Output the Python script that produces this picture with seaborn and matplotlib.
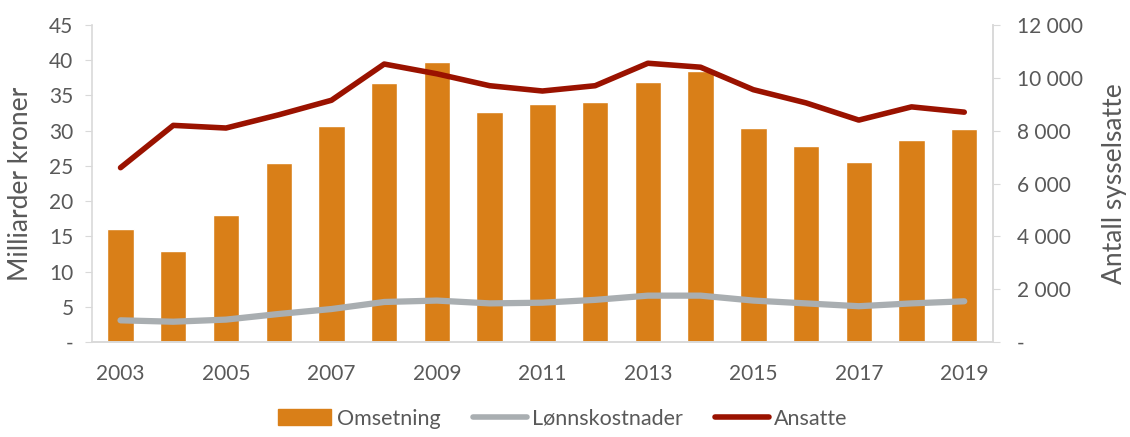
import numpy as np
import pandas as pd
import seaborn as sns
import matplotlib.pyplot as plt
from matplotlib.patches import Patch
from matplotlib.lines import Line2D
from matplotlib.ticker import FuncFormatter

years = [str(y) for y in range(2003, 2020)]
omsetning = [16.0, 13.0, 18.1, 25.4, 30.6, 36.7, 39.7, 32.7, 33.8, 34.0,
             36.9, 38.5, 30.4, 27.8, 25.6, 28.7, 30.2]
lonnskostnader = [3.1, 2.9, 3.2, 4.0, 4.7, 5.7, 5.9, 5.5, 5.6, 6.0,
                  6.6, 6.6, 5.9, 5.5, 5.1, 5.5, 5.8]
ansatte = [6600, 8200, 8100, 8600, 9150, 10520, 10150, 9700, 9500, 9700,
           10550, 10400, 9550, 9050, 8400, 8900, 8700]

df = pd.DataFrame({'year': years, 'Omsetning': omsetning,
                   'Lonn': lonnskostnader, 'Ansatte': ansatte})

sns.set_style('white')
plt.rcParams['font.family'] = ['Lato', 'DejaVu Sans']
txtcol = '#595959'
gridcol = '#d9d9d9'
c_bar, c_gray, c_red = '#D97F18', '#A9AEB1', '#9A1200'

fig = plt.figure(figsize=(11.3, 4.37), dpi=100)
ax = fig.add_axes([0.081, 0.217, 0.798, 0.726])
sns.barplot(data=df, x='year', y='Omsetning', color=c_bar, width=0.5,
            saturation=1, ax=ax, zorder=2)
xpos = np.arange(len(years))
sns.lineplot(x=xpos, y=df['Lonn'], color=c_gray, lw=4.5, ax=ax, zorder=3)
ax.set_ylim(0, 45)
ax.set_yticks(range(0, 46, 5))
ax.yaxis.set_major_formatter(FuncFormatter(lambda v, p: '-' if v == 0 else f'{int(v)}'))
ax.set_xlim(-0.55, len(years) - 0.45)
ax.set_xticks(xpos[::2])
ax.set_xticklabels(years[::2])
ax.set_xlabel('')
ax.set_ylabel('Milliarder kroner', fontsize=19, color=txtcol, labelpad=12)

ax2 = ax.twinx()
sns.lineplot(x=xpos, y=df['Ansatte'], color=c_red, lw=4, ax=ax2, zorder=4)
ax2.set_ylim(0, 12000)
ax2.set_yticks(range(0, 12001, 2000))
ax2.yaxis.set_major_formatter(FuncFormatter(
    lambda v, p: '-' if v == 0 else f'{int(v):,}'.replace(',', ' ')))
ax2.set_ylabel('Antall sysselsatte', fontsize=19, color=txtcol, labelpad=14)

for a in (ax, ax2):
    a.spines['top'].set_visible(False)
    for s in ('left', 'right', 'bottom'):
        a.spines[s].set_color(gridcol)
        a.spines[s].set_linewidth(1.2)
    a.tick_params(axis='both', labelsize=15, colors=txtcol, length=5, color=gridcol)
ax.tick_params(axis='x', length=0, pad=16)
ax.tick_params(axis='y', pad=8)
ax2.tick_params(axis='y', pad=12)
ax2.spines['left'].set_visible(False)

handles = [Patch(color=c_bar, label='Omsetning'),
           Line2D([], [], color=c_gray, lw=4, label='Lønnskostnader'),
           Line2D([], [], color=c_red, lw=4, label='Ansatte')]
leg = fig.legend(handles=handles, loc='lower center', bbox_to_anchor=(0.498, -0.025),
                 ncol=3, frameon=False, fontsize=15.5, handlelength=2.5,
                 handletextpad=0.25, columnspacing=1.5)
for t in leg.get_texts():
    t.set_color(txtcol)

fig.savefig('out.png', dpi=100)
